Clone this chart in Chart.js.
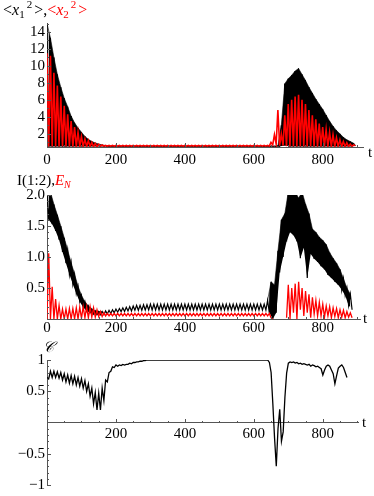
<!DOCTYPE html>
<html><head><meta charset="utf-8">
<script src="https://cdn.jsdelivr.net/npm/chart.js@4.4.1/dist/chart.umd.min.js"></script>
<style>
html,body{margin:0;padding:0;background:#fff;width:374px;height:496px;overflow:hidden}
canvas{position:absolute;left:0}
</style></head><body>
<canvas id="c1" width="374" height="165" style="top:0px"></canvas>
<canvas id="c2" width="374" height="172" style="top:165px"></canvas>
<canvas id="c3" width="374" height="161" style="top:335px"></canvas>
<script>
// ---------- data (values sampled every 5 time units, t = 0, 5, 10, ...) ----------
// oscillating series alternate between local maxima and local minima
const T_STEP = 5;

// panel 1: <x1^2> (black) and <x2^2> (red)
const x1sq = [
 15,0.5,13.3,0.5,11,0.5,9.0,0.5,7.5,0.5,6.2,0.5,5.2,0.5,4.1,0.5,3.3,0.5,2.7,0.5,
 2.2,0.5,1.7,0.5,1.35,0.5,1.1,0.5,0.93,0.5,0.8,0.5,0.7,0.5,0.62,0.5,0.58,0.5,0.56,0.5,
 0.55,0.5,0.55,0.5,0.55,0.5,0.55,0.5,0.55,0.5,0.55,0.5,0.55,0.5,0.55,0.5,0.55,0.5,0.55,0.5,
 0.55,0.5,0.55,0.5,0.55,0.5,0.55,0.5,0.55,0.5,0.55,0.5,0.55,0.5,0.55,0.5,0.55,0.5,0.55,0.5,
 0.55,0.5,0.55,0.5,0.55,0.5,0.55,0.5,0.55,0.5,0.55,0.5,0.55,0.5,0.55,0.5,0.55,0.5,0.55,0.5,
 0.55,0.5,0.55,0.5,0.55,0.5,0.55,0.5,0.55,0.5,0.55,0.5,0.55,0.5,0.55,0.5,0.55,0.5,0.55,0.5,
 0.55,0.5,0.55,0.5,0.55,0.5,0.55,0.5,0.55,0.5,0.55,0.5,0.55,0.5,0.6,0.5,3.0,0.6,7.9,0.6,
 8.5,0.5,8.9,0.5,9.4,0.5,9.7,0.5,9.0,0.5,8.3,0.5,7.5,0.5,6.8,0.5,6.1,0.5,5.5,0.5,
 4.9,0.5,4.2,0.5,3.5,0.5,2.9,0.5,2.4,0.5,2.0,0.5,1.6,0.5,1.3,0.5,1.1,0.5,0.9,0.6
];
const x2sq = [
 11.5,0.5,11.2,0.5,9.2,0.5,7.7,0.5,6.4,0.5,5.3,0.5,4.3,0.5,3.5,0.5,2.8,0.5,2.2,0.5,
 1.7,0.5,1.4,0.5,1.2,0.5,1.0,0.5,0.88,0.5,0.78,0.55,0.7,0.55,0.65,0.55,0.65,0.55,0.65,0.55,
 0.65,0.55,0.65,0.55,0.65,0.55,0.65,0.55,0.65,0.55,0.65,0.55,0.65,0.55,0.65,0.55,0.65,0.55,0.65,0.55,
 0.65,0.55,0.65,0.55,0.65,0.55,0.65,0.55,0.65,0.55,0.65,0.55,0.65,0.55,0.65,0.55,0.65,0.55,0.65,0.55,
 0.65,0.55,0.65,0.55,0.65,0.55,0.65,0.55,0.65,0.55,0.65,0.55,0.65,0.55,0.65,0.55,0.65,0.55,0.65,0.55,
 0.65,0.55,0.65,0.55,0.65,0.55,0.65,0.55,0.65,0.55,0.65,0.55,0.65,0.55,0.65,0.55,0.65,0.55,0.65,0.55,
 0.65,0.55,0.65,0.55,0.65,0.55,0.65,0.55,0.65,0.55,1.0,0.7,1.9,0.8,4.8,0.6,2.0,0.6,4.2,0.55,
 5.5,0.5,6.0,0.5,6.4,0.5,6.6,0.5,6.0,0.5,5.5,0.5,4.8,0.5,4.2,0.5,3.7,0.5,3.2,0.5,
 2.8,0.5,2.5,0.5,2.2,0.5,1.9,0.5,1.55,0.5,1.3,0.5,1.1,0.5,0.95,0.5,0.8,0.55,0.7,0.6
];

// panel 2: I(1:2) (black) and E_N (red)
const mutualInfo = [
 2.05,1.6,2.05,1.53,1.85,1.42,1.68,1.28,1.5,1.08,1.31,0.9,1.11,0.72,0.91,0.56,0.72,0.41,0.53,0.28,
 0.38,0.19,0.28,0.13,0.21,0.1,0.16,0.08,0.13,0.07,0.12,0.07,0.12,0.07,0.13,0.08,0.14,0.09,0.15,0.1,
 0.16,0.11,0.17,0.12,0.18,0.12,0.19,0.13,0.2,0.13,0.21,0.14,0.22,0.14,0.22,0.14,0.23,0.145,0.23,0.145,
 0.24,0.145,0.24,0.145,0.24,0.145,0.24,0.145,0.24,0.145,0.24,0.145,0.24,0.145,0.24,0.145,0.24,0.145,0.24,0.145,
 0.24,0.145,0.24,0.145,0.24,0.145,0.24,0.145,0.24,0.145,0.24,0.145,0.24,0.145,0.24,0.145,0.24,0.145,0.24,0.145,
 0.24,0.145,0.24,0.145,0.24,0.145,0.24,0.145,0.24,0.145,0.24,0.145,0.24,0.145,0.24,0.145,0.24,0.145,0.24,0.145,
 0.24,0.145,0.24,0.145,0.24,0.145,0.24,0.145,0.3,0.1,0.6,0.0,0.55,0.1,1.1,0.75,1.6,1.0,1.7,1.25,
 2.05,1.4,2.05,1.35,2.05,1.25,1.95,0.98,2.05,1.15,1.85,0.66,1.7,1.05,1.45,0.97,1.4,0.92,1.32,0.85,
 1.27,0.8,1.2,0.71,1.07,0.66,0.98,0.6,0.9,0.55,0.8,0.47,0.65,0.38,0.5,0.22,0.4,0.15
];
const negativity = [
 0,1.06,0,0.52,0,0.32,0,0.22,0,0.16,0,0.16,0,0.17,0,0.17,0,0.18,0,0.19,
 0.01,0.2,0.02,0.2,0.02,0.2,0.03,0.18,0.03,0.15,0.04,0.12,0.04,0.1,0.05,0.09,0.05,0.09,0.05,0.09,
 0.05,0.09,0.05,0.09,0.05,0.09,0.05,0.09,0.05,0.09,0.05,0.09,0.05,0.09,0.05,0.09,0.05,0.09,0.05,0.09,
 0.05,0.09,0.05,0.09,0.05,0.09,0.05,0.09,0.05,0.09,0.05,0.09,0.05,0.09,0.05,0.09,0.05,0.09,0.05,0.09,
 0.05,0.09,0.05,0.09,0.05,0.09,0.05,0.09,0.05,0.09,0.05,0.09,0.05,0.09,0.05,0.09,0.05,0.09,0.05,0.09,
 0.05,0.09,0.05,0.09,0.05,0.09,0.05,0.09,0.05,0.09,0.05,0.09,0.05,0.09,0.05,0.09,0.05,0.09,0.05,0.09,
 0.05,0.09,0.05,0.09,0.05,0.09,0.05,0.09,0.05,0.09,0.02,0,null,null,null,null,null,null,null,0.02,
 0.55,0,0.5,0.1,0.57,0,0.6,0.15,0.5,0.05,0.45,0.1,0.4,0.02,0.35,0.08,0.3,0.05,0.27,0.05,
 0.24,0.03,0.21,0.05,0.2,0.02,0.18,0.04,0.17,0.02,0.15,0.03,0.14,0.02,0.12,0.03,0.1,0.02
];

// panel 3: C
const corr = [
 0.72,0.7,0.82,0.72,0.82,0.72,0.81,0.71,0.8,0.68,0.78,0.65,0.76,0.63,0.75,0.62,0.74,0.6,0.72,0.58,
 0.7,0.55,0.67,0.5,0.62,0.42,0.55,0.3,0.48,0.2,0.47,0.2,0.55,0.35,0.68,0.65,0.8,0.82,0.89,0.88,
 0.92,0.9,0.92,0.91,0.93,0.92,0.93,0.93,0.95,0.94,0.96,0.96,0.97,0.97,0.98,0.98,0.99,0.99,1.0,1.0,
 1.0,1.0,1.0,1.0,1.0,1.0,1.0,1.0,1.0,1.0,1.0,1.0,1.0,1.0,1.0,1.0,1.0,1.0,1.0,1.0,
 1.0,1.0,1.0,1.0,1.0,1.0,1.0,1.0,1.0,1.0,1.0,1.0,1.0,1.0,1.0,1.0,1.0,1.0,1.0,1.0,
 1.0,1.0,1.0,1.0,1.0,1.0,1.0,1.0,1.0,1.0,1.0,1.0,1.0,1.0,1.0,1.0,1.0,1.0,1.0,1.0,
 1.0,1.0,1.0,1.0,1.0,1.0,1.0,1.0,1.0,0.96,0.8,0.3,-0.25,-0.7,-0.1,0.21,-0.3,-0.15,0.4,0.79,
 0.95,0.97,0.96,0.97,0.95,0.96,0.94,0.95,0.93,0.94,0.93,0.92,0.93,0.9,0.92,0.91,0.89,0.9,0.88,0.86,
 0.76,0.84,0.9,0.92,0.9,0.84,0.78,0.62,0.75,0.87,0.9,0.92,0.88,0.8,0.72
];

// ticks
const xTicks = [0, 200, 400, 600, 800];
const xLabels = ['0', '200', '400', '600', '800'];
const xTicks3 = [200, 400, 600, 800];
const xLabels3 = ['200', '400', '600', '800'];
const yTicks1 = [2, 4, 6, 8, 10, 12, 14];
const yLabels1 = ['2', '4', '6', '8', '10', '12', '14'];
const yTicks2 = [0.5, 1.0, 1.5, 2.0];
const yLabels2 = ['0.5', '1.0', '1.5', '2.0'];
const yTicks3 = [-1, -0.5, 0.5, 1];
const yLabels3 = ['\u22121', '\u22120.5', '0.5', '1'];

// ---------- drawing ----------
const AX = '#555';
const SERIF = '"Liberation Serif", "Times New Roman", serif';
const FONT = {family: SERIF, size: 15};

function toXY(vals) { return vals.map((v, i) => ({x: i * T_STEP, y: v})); }
// maxima (parity 0) or minima (parity 1) of an oscillating series, optionally hidden in a t-window
function envelope(vals, parity, hide) {
  const pts = [];
  vals.forEach((v, i) => {
    if (i % 2 !== parity) return;
    const t = i * T_STEP;
    pts.push({x: t, y: (hide && t > hide[0] && t < hide[1]) ? null : v});
  });
  return pts;
}

const deco = {
  id: 'deco',
  afterDraw(chart, args, o) {
    const ctx = chart.ctx, xs = chart.scales.x, ys = chart.scales.y;
    const ay = ys.getPixelForValue(o.xAxisAt);
    const ax = xs.getPixelForValue(0);
    ctx.save();
    ctx.strokeStyle = AX; ctx.lineWidth = 1;
    ctx.beginPath();
    for (let k = 1; k * 50 <= xs.max; k++) {
      const v = k * 50;
      const p = Math.round(xs.getPixelForValue(v)) + 0.5;
      const L = (v % 200 === 0) ? 4 : 2;
      ctx.moveTo(p, Math.round(ay)); ctx.lineTo(p, Math.round(ay) - L);
    }
    for (let k = Math.ceil(ys.min / o.yMinor - 1e-6); k * o.yMinor <= ys.max + 1e-6; k++) {
      const v = k * o.yMinor;
      if (Math.abs(v - o.xAxisAt) < 1e-6) continue;
      const major = o.yMajor.some(t => Math.abs(t - v) < 1e-6);
      const p = Math.round(ys.getPixelForValue(v)) + 0.5;
      ctx.moveTo(Math.round(ax), p); ctx.lineTo(Math.round(ax) + (major ? 4 : 2), p);
    }
    ctx.stroke();
    ctx.fillStyle = '#000';
    ctx.font = '15px ' + SERIF;
    ctx.textBaseline = 'alphabetic';
    ctx.fillText('t', o.tPos[0], o.tPos[1]);
    let x = o.title.x;
    for (const p of o.title.pieces) {
      ctx.font = (p.it ? 'italic ' : '') + (p.size || 16) + 'px ' + SERIF;
      ctx.fillStyle = p.color || '#000';
      x += (p.pre || 0);
      ctx.fillText(p.text, x, o.title.y + (p.dy || 0));
      x += ctx.measureText(p.text).width;
    }
    ctx.restore();
  }
};

function makeChart(id, o) {
  const datasets = [];
  o.series.forEach(s => {
    datasets.push({
      data: toXY(s.values), borderColor: s.color, borderWidth: s.width,
      pointRadius: 0, tension: 0, fill: false, order: s.order, spanGaps: false
    });
  });
  if (o.band) {
    const b = o.band;
    datasets.push({
      data: envelope(b.values, 0, b.hide), borderColor: b.color, borderWidth: 0.6,
      backgroundColor: b.color, pointRadius: 0, tension: 0, fill: '+1', order: 10, spanGaps: false
    });
    datasets.push({
      data: envelope(b.values, 1, b.hide), borderColor: 'rgba(0,0,0,0)', borderWidth: 0,
      pointRadius: 0, tension: 0, fill: false, order: 11, spanGaps: false
    });
  }
  return new Chart(document.getElementById(id), {
    type: 'line',
    data: {datasets},
    options: {
      responsive: false, animation: false, events: [],
      layout: {padding: o.pad},
      plugins: {legend: {display: false}, tooltip: {enabled: false}, deco: o.deco},
      scales: {
        x: {
          type: 'linear', min: 0, max: o.xMax, position: o.xPos,
          afterFit: s => { s.height = o.xH; },
          afterBuildTicks: s => { s.ticks = o.xTicks.map(v => ({value: v})); },
          ticks: {autoSkip: false, maxRotation: 0, padding: o.xTickPad, color: '#000', font: FONT,
                  callback: (v, i) => o.xLabels[i]},
          grid: {display: false, drawTicks: false},
          border: {display: true, color: AX, width: 1}
        },
        y: {
          type: 'linear', min: o.yMin, max: o.yMax,
          afterFit: s => { s.width = 47; },
          afterBuildTicks: s => { s.ticks = o.yTicks.map(v => ({value: v})); },
          ticks: {autoSkip: false, padding: 2, color: '#000', font: FONT,
                  callback: (v, i) => o.yLabels[i]},
          grid: {display: false, drawTicks: false},
          border: {display: true, color: AX, width: 1}
        }
      }
    },
    plugins: [deco]
  });
}

makeChart('c1', {
  series: [
    {values: x2sq, color: '#ff0000', width: 1.6, order: 0},
    {values: x1sq, color: '#000000', width: 1, order: 1}
  ],
  band: {values: x1sq, color: '#000000', hide: null},
  pad: {top: 23.5, right: 11, bottom: 0, left: 0},
  xMax: 917, xPos: 'bottom', xH: 18, xTickPad: 4,
  xTicks: xTicks, xLabels: xLabels,
  yMin: 0.45, yMax: 15, yTicks: yTicks1, yLabels: yLabels1,
  deco: {
    xAxisAt: 0.45, yMinor: 1, yMajor: yTicks1, tPos: [368, 157],
    title: {x: 3, y: 15, pieces: [
      {text: '<'}, {text: 'x', it: true}, {text: '1', size: 11, dy: 3}, {text: '2', size: 11, dy: -7, pre: 2},
      {text: '>', pre: 2}, {text: ','},
      {text: '<', color: '#ff0000'}, {text: 'x', it: true, color: '#ff0000'},
      {text: '2', size: 11, dy: 3, color: '#ff0000'}, {text: '2', size: 11, dy: -7, pre: 2, color: '#ff0000'},
      {text: '>', pre: 2, color: '#ff0000'}
    ]}
  }
});

makeChart('c2', {
  series: [
    {values: negativity, color: '#ff0000', width: 1.3, order: 0},
    {values: mutualInfo, color: '#000000', width: 1.2, order: 1}
  ],
  band: {values: mutualInfo, color: '#000000', hide: [160, 640]},
  pad: {top: 30, right: 14, bottom: 0, left: 0},
  xMax: 908, xPos: 'bottom', xH: 18, xTickPad: 0,
  xTicks: xTicks, xLabels: xLabels,
  yMin: 0, yMax: 2, yTicks: yTicks2, yLabels: yLabels2,
  deco: {
    xAxisAt: 0, yMinor: 0.1, yMajor: yTicks2, tPos: [363, 158],
    title: {x: 17, y: 20, pieces: [
      {text: 'I(1:2),', size: 15},
      {text: 'E', it: true, size: 15, color: '#ff0000'},
      {text: 'N', it: true, size: 10, dy: 3, color: '#ff0000'}
    ]}
  }
});

makeChart('c3', {
  series: [
    {values: corr, color: '#000000', width: 1.3, order: 0}
  ],
  band: null,
  pad: {top: 25, right: 16, bottom: 9, left: 0},
  xMax: 902, xPos: {y: 0}, xH: 0, xTickPad: 3,
  xTicks: xTicks3, xLabels: xLabels3,
  yMin: -1, yMax: 1, yTicks: yTicks3, yLabels: yLabels3,
  deco: {
    xAxisAt: 0, yMinor: 0.1, yMajor: yTicks3, tPos: [362, 92],
    title: {x: 43, y: 17, pieces: [
      {text: '\u{1D49E}', it: true, size: 15}
    ]}
  }
});
</script>
</body></html>
